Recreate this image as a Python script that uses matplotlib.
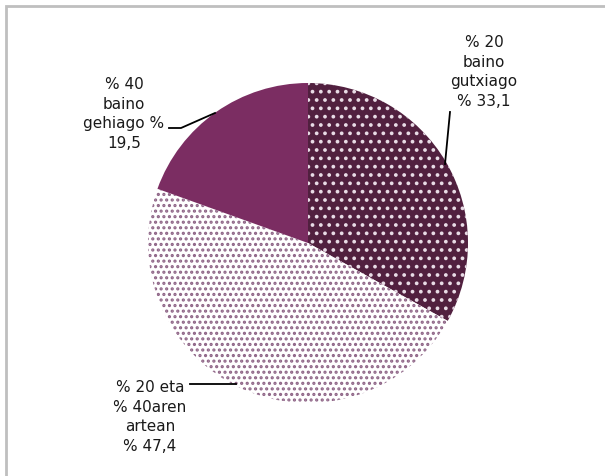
import matplotlib
matplotlib.use("Agg")
import matplotlib.pyplot as plt
from matplotlib.patches import Rectangle

plt.rcParams['font.family'] = ['DejaVu Sans']
plt.rcParams['hatch.linewidth'] = 1.5

categories = ["% 20\nbaino\ngutxiago", "% 20 eta\n% 40aren\nartean", "% 40\nbaino\ngehiago"]
values = [33.1, 47.4, 19.5]

def fmt(v):
    return ("%.1f" % v).replace(".", ",")

labels = [
    categories[0] + "\n% " + fmt(values[0]),
    categories[1] + "\n% " + fmt(values[1]),
    categories[2] + " %\n" + fmt(values[2]),
]

face_colors = ["#51203F", "#FFFFFF", "#7B2D62"]
hatch_colors = ["#E8DCE6", "#8E6486", None]
hatches = ["..", "...", None]

W, H = 605, 476
fig = plt.figure(figsize=(W / 100, H / 100), dpi=100)
ax = fig.add_axes([0, 0, 1, 1])

cx, cy, r = 308, H - 243, 160

wedges, _ = ax.pie(values, colors=face_colors, startangle=90, counterclock=False,
                   center=(cx, cy), radius=r, frame=True,
                   wedgeprops=dict(linewidth=0))

# dotted pattern overlays
wedges2, _ = ax.pie(values, colors=["none"] * 3, startangle=90, counterclock=False,
                    center=(cx, cy), radius=r, frame=True,
                    wedgeprops=dict(linewidth=0))
for w, hc, h in zip(wedges2, hatch_colors, hatches):
    if h is None:
        w.set_visible(False)
    else:
        w.set_facecolor("none")
        w.set_edgecolor(hc)
        w.set_hatch(h)
        w.set_linewidth(0)
ax.set_xlim(0, W)
ax.set_ylim(0, H)
ax.axis("off")
ax.set_aspect("auto")

txt_color = "#1A1A1A"
label_pos = [(484, H - 72), (150, H - 417), (124, H - 114)]
for lab, (x, y) in zip(labels, label_pos):
    ax.text(x, y, lab, ha="center", va="center", fontsize=11, color=txt_color,
            linespacing=1.4)

# leader lines
ax.plot([450, 445], [H - 112, H - 164], color="black", lw=1.3)
ax.plot([190, 236], [H - 384, H - 384], color="black", lw=1.3)
ax.plot([169, 181, 215], [H - 128, H - 128, H - 113], color="black", lw=1.3)

# frame
ax.add_patch(Rectangle((6, -20), 700, H - 6 + 20, fill=False, edgecolor="#BFBFBF",
                       lw=2, clip_on=False))

fig.savefig("out.png", dpi=100)
